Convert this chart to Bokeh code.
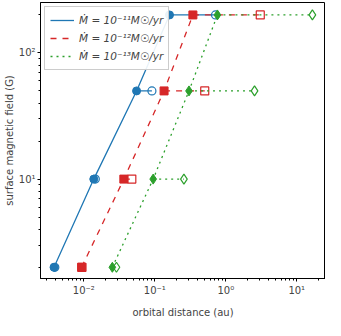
from bokeh.plotting import figure
from bokeh.models import Range1d, Legend, LegendItem, CustomJSTickFormatter
from bokeh.embed import file_html
from bokeh.resources import INLINE

# data
field_levels = [2, 10, 50, 200]
labels = ["Ṁ = 10⁻¹¹M☉/yr", "Ṁ = 10⁻¹²M☉/yr", "Ṁ = 10⁻¹³M☉/yr"]
blue_inner = [0.0038, 0.0138, 0.0553, 0.161]
blue_outer = [0.0039, 0.0145, 0.091, 0.716]
red_inner = [0.0093, 0.0366, 0.135, 0.344]
red_outer = [0.0094, 0.0474, 0.505, 3.06]
green_inner = [0.0252, 0.0948, 0.303, 0.762]
green_outer = [0.0288, 0.257, 2.54, 16.6]

colors = ["#1f77b4", "#d62728", "#2ca02c"]
dashes = ["solid", "dashed", "dotted"]
markers = ["circle", "square", "diamond"]
msize = [8, 8, 10]

p = figure(width=325, height=320, x_axis_type="log", y_axis_type="log",
           x_range=Range1d(0.00245, 25.4), y_range=Range1d(1.63, 251),
           output_backend="svg", toolbar_location=None,
           min_border_left=4, min_border_right=0, min_border_top=2, min_border_bottom=6)
p.xgrid.visible = False
p.ygrid.visible = False
p.outline_line_color = "black"
p.outline_line_width = 1

fmt_code = """
const sup = {'-':'\u207b','0':'\u2070','1':'\u00b9','2':'\u00b2','3':'\u00b3','4':'\u2074','5':'\u2075','6':'\u2076','7':'\u2077','8':'\u2078','9':'\u2079'};
const e = Math.round(Math.log10(tick));
return '10' + String(e).split('').map(c => sup[c]).join('');
"""
for ax in (p.xaxis[0], p.yaxis[0]):
    ax.formatter = CustomJSTickFormatter(code=fmt_code)
    ax.major_label_text_font = "DejaVu Sans"
    ax.major_label_text_font_size = "10px"
    ax.axis_label_text_font = "DejaVu Sans"
    ax.axis_label_text_font_size = "10px"
    ax.axis_label_text_font_style = "normal"
    ax.axis_line_color = "black"
    ax.major_tick_line_color = "black"
    ax.minor_tick_line_color = "black"
    ax.major_tick_out = 3
    ax.major_tick_in = 0
    ax.minor_tick_out = 2
    ax.minor_tick_in = 0
p.yaxis.axis_label_standoff = 1
p.yaxis.major_label_standoff = 2
p.xaxis.axis_label_standoff = 8
p.xaxis.major_label_standoff = 3
p.xaxis.axis_label = "orbital distance (au)"
p.yaxis.axis_label = "surface magnetic field (G)"

series = [(blue_inner, blue_outer), (red_inner, red_outer), (green_inner, green_outer)]
items = []
for i, (inner, outer) in enumerate(series):
    c = colors[i]
    main = p.line(inner, field_levels, line_color=c, line_dash=dashes[i], line_width=1.3)
    for xi, xo, y in zip(inner, outer, field_levels):
        p.line([xi, xo], [y, y], line_color=c, line_dash=dashes[i], line_width=1.3)
    p.scatter(outer, field_levels, marker=markers[i], size=msize[i], line_color=c,
              fill_alpha=0, line_width=1.2)
    p.scatter(inner, field_levels, marker=markers[i], size=msize[i], line_color=c,
              fill_color=c, line_width=1)
    items.append(LegendItem(label=labels[i], renderers=[main]))

legend = Legend(items=items, location="top_left")
legend.label_text_font = "DejaVu Sans"
legend.label_text_font_size = "10.5px"
legend.label_text_font_style = "italic"
legend.border_line_color = "#cccccc"
legend.border_line_alpha = 1
legend.background_fill_alpha = 0.9
legend.glyph_width = 24
legend.glyph_height = 16
legend.label_height = 16
legend.spacing = 2
legend.padding = 5
legend.margin = 4
p.add_layout(legend)

open("out.html", "w").write(file_html(p, INLINE))
